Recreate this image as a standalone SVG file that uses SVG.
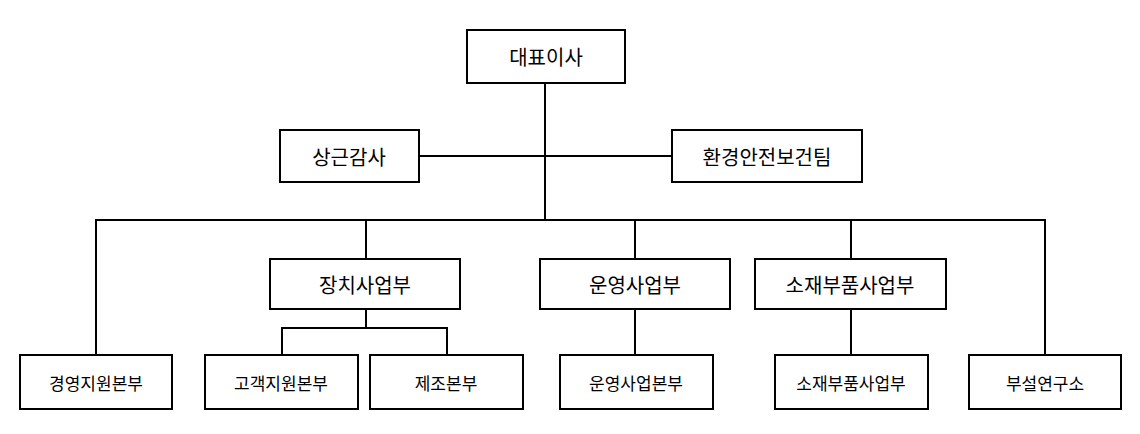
<svg xmlns="http://www.w3.org/2000/svg" width="1140" height="434" viewBox="0 0 1140 434">
<style>
rect{fill:#fff;stroke:#000;stroke-width:2}
text{font-family:"Noto Sans CJK KR",sans-serif;text-anchor:middle;dominant-baseline:central;fill:#000}
.b{font-size:20px}.s{font-size:17px}
#connectors path{fill:none;stroke:#000;stroke-width:2}
</style>
<rect x="0" y="0" width="1140" height="434" style="stroke:none"/>
<g id="connectors">
<path d="M545 83V220M419 156H672M96 355V220H1045V355M366 220V259M635 220V259M851 220V259M366 309V328M282 355V328H447V355M635 309V355M851 309V355"/>
</g>
<g id="n1"><rect x="467" y="30" width="158" height="53"/><text class="b" x="546" y="56">대표이사</text></g>
<g id="n2"><rect x="280" y="130" width="139" height="52"/><text class="b" x="349" y="156">상근감사</text></g>
<g id="n3"><rect x="672" y="130" width="190" height="52"/><text class="b" x="767" y="156">환경안전보건팀</text></g>
<g id="n4"><rect x="270" y="259" width="190" height="50"/><text class="b" x="365" y="284">장치사업부</text></g>
<g id="n5"><rect x="540" y="259" width="190" height="50"/><text class="b" x="635" y="284">운영사업부</text></g>
<g id="n6"><rect x="755" y="259" width="191" height="50"/><text class="b" x="850" y="284">소재부품사업부</text></g>
<g id="n7"><rect x="20" y="355" width="152" height="54"/><text class="s" x="96" y="382">경영지원본부</text></g>
<g id="n8"><rect x="205" y="355" width="153" height="54"/><text class="s" x="281" y="382">고객지원본부</text></g>
<g id="n9"><rect x="370" y="355" width="153" height="54"/><text class="s" x="446" y="382">제조본부</text></g>
<g id="n10"><rect x="560" y="355" width="153" height="54"/><text class="s" x="636" y="382">운영사업본부</text></g>
<g id="n11"><rect x="775" y="355" width="153" height="54"/><text class="s" x="851" y="382">소재부품사업부</text></g>
<g id="n12"><rect x="969" y="355" width="152" height="54"/><text class="s" x="1045" y="382">부설연구소</text></g>
</svg>
